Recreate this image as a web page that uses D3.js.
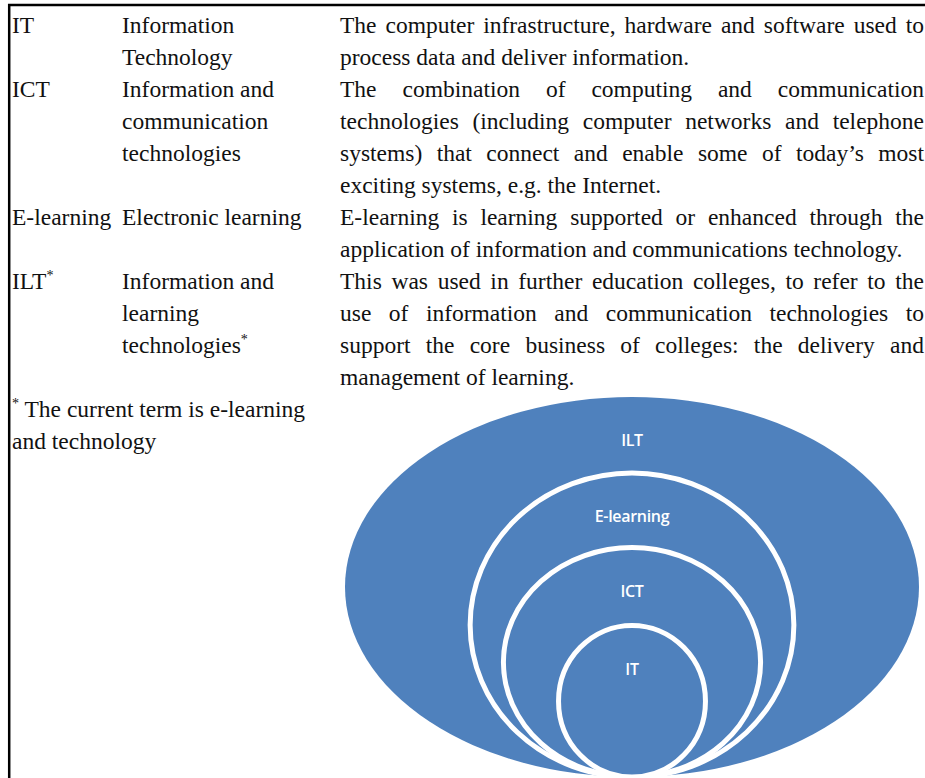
<!DOCTYPE html>
<html><head><meta charset="utf-8">
<script src="https://cdn.jsdelivr.net/npm/d3@7"></script>
<style>
body{margin:0;background:#fff;} svg{display:block;}
.serif{font-family:"Liberation Serif","Times New Roman",Times,serif;}
.lbl{font-family:"Open Sans",Roboto,sans-serif;}
</style>
</head><body>
<script>
// ---- table content ----
const terms = ["IT", "ICT", "E-learning", "ILT"];
const termStars = [false, false, false, true];
const names = [
  ["Information", "Technology"],
  ["Information and", "communication", "technologies"],
  ["Electronic learning"],
  ["Information and", "learning", "technologies"]
];
const nameStarOnLast = [false, false, false, true];
const definitions = [
  ["The computer infrastructure, hardware and software used to",
   "process data and deliver information."],
  ["The combination of computing and communication",
   "technologies (including computer networks and telephone",
   "systems) that connect and enable some of today\u2019s most",
   "exciting systems, e.g. the Internet."],
  ["E-learning is learning supported or enhanced through the",
   "application of information and communications technology."],
  ["This was used in further education colleges, to refer to the",
   "use of information and communication technologies to",
   "support the core business of colleges: the delivery and",
   "management of learning."]
];
const rowStartLine = [0, 2, 6, 8];
const footnote = ["The current term is e-learning", "and technology"];
const footStartLine = 12;

// ---- nested diagram content ----
const levels = ["ILT", "E-learning", "ICT", "IT"];
const widthShare = [1.0, 0.564, 0.448, 0.256];
const heightShare = [1.0, 0.80, 0.604, 0.399];

// ---- drawing ----
const W = 925, H = 778;
const svg = d3.select("body").append("svg").attr("width", W).attr("height", H);
svg.append("rect").attr("width", W).attr("height", H).attr("fill", "#fff");

const fs = 23.5, step = 32, base0 = 33;
const colX = [12, 122, 340], rightX = 924;
const lineY = i => base0 + i * step;

// borders
svg.append("line").attr("x1", 8).attr("x2", W).attr("y1", 5).attr("y2", 5)
  .attr("stroke", "#000").attr("stroke-width", 2.5);
svg.append("line").attr("x1", 9.2).attr("x2", 9.2).attr("y1", 4).attr("y2", H)
  .attr("stroke", "#000").attr("stroke-width", 2.5);

const tg = svg.append("g").attr("class", "serif").style("font-size", fs + "px").attr("fill", "#111");

function plain(x, y, txt, star) {
  const t = tg.append("text").attr("x", x).attr("y", y);
  t.append("tspan").text(txt);
  if (star) t.append("tspan").style("font-size", (fs * 0.6) + "px").attr("dy", -9).text("*");
  return t;
}
function justified(x0, x1, y, txt) {
  const words = txt.split(" ");
  const t = tg.append("text").attr("y", y);
  const spans = words.map(w => t.append("tspan").text(w));
  const widths = spans.map(s => s.node().getComputedTextLength());
  const gap = (x1 - x0 - d3.sum(widths)) / (words.length - 1);
  let x = x0;
  spans.forEach((s, i) => { s.attr("x", x); x += widths[i] + gap; });
}

terms.forEach((term, r) => {
  const L = rowStartLine[r];
  plain(colX[0], lineY(L), term, termStars[r]);
  names[r].forEach((n, j) => plain(colX[1], lineY(L + j), n, nameStarOnLast[r] && j === names[r].length - 1));
  const defs = definitions[r];
  defs.forEach((d, j) => {
    if (j < defs.length - 1) justified(colX[2], rightX, lineY(L + j), d);
    else plain(colX[2], lineY(L + j), d, false);
  });
});
// footnote
const ft = tg.append("text").attr("x", colX[0]).attr("y", lineY(footStartLine));
ft.append("tspan").style("font-size", (fs * 0.6) + "px").attr("dy", -9).text("*");
ft.append("tspan").attr("dy", 9).text(" " + footnote[0]);
plain(colX[0], lineY(footStartLine + 1), footnote[1], false);

// nested ellipses
const cx = 632, bottom = 777, outerRx = 287, outerH = 380;
const rxS = d3.scaleLinear().domain([0, 1]).range([0, outerRx]);
const hS = d3.scaleLinear().domain([0, 1]).range([0, outerH]);
const blue = "#4F81BD";
const dg = svg.append("g");
levels.forEach((lv, i) => {
  const rx = rxS(widthShare[i]), ry = hS(heightShare[i]) / 2;
  dg.append("ellipse").attr("cx", cx).attr("cy", bottom - ry).attr("rx", rx).attr("ry", ry)
    .attr("fill", blue).attr("stroke", i === 0 ? "none" : "#fff").attr("stroke-width", 5);
});
levels.forEach((lv, i) => {
  const top = bottom - hS(heightShare[i]);
  dg.append("text").attr("class", "lbl").attr("x", cx).attr("y", top + 45).attr("text-anchor", "middle")
    .attr("dominant-baseline", "middle").attr("fill", "#fff")
    .attr("font-weight", 600).style("font-size", "16px").attr("letter-spacing", -0.3).text(lv);
});
</script>
</body></html>
